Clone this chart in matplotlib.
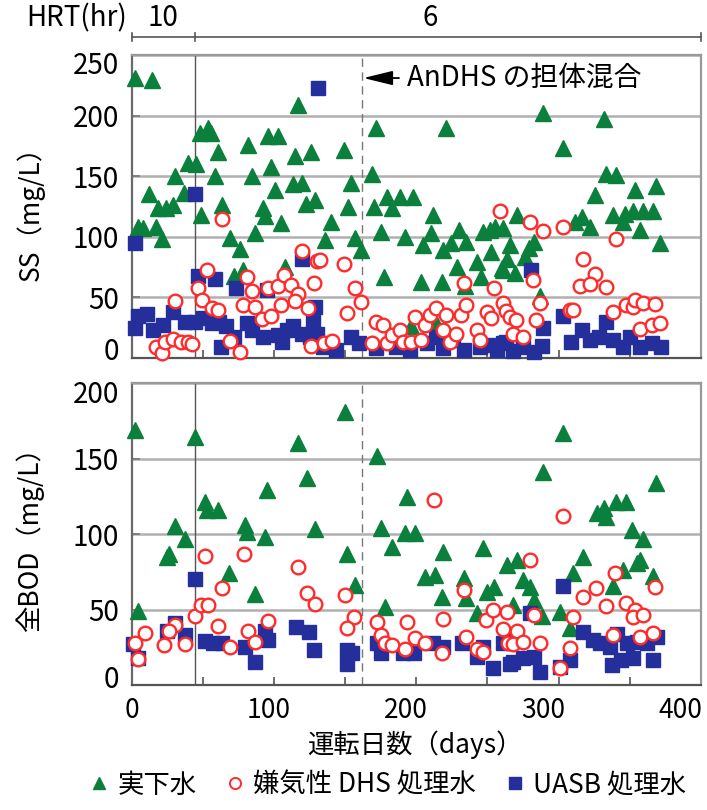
import numpy as np
import matplotlib
matplotlib.use("Agg")
import matplotlib.pyplot as plt
from matplotlib.lines import Line2D
from matplotlib.transforms import ScaledTranslation

plt.rcParams['font.family'] = ['Noto Sans CJK JP', 'DejaVu Sans']

# ---------------- data ----------------
X_MAX = 415
HRT_BREAKS = [0, 46, X_MAX]
HRT_LABELS = ['10', '6']
HRT_LABEL_DAYS = [23, 218]
MIX_DAY = 168

# SS (mg/L)
ss_raw_day = [2.5, 15, 121, 134, 50, 56, 58, 63, 85, 99.5, 107, 119, 131, 41, 47, 32, 61, 88, 102,
              117.5, 124.5, 104.6, 13, 30, 38, 19, 25, 5, 8.5, 18, 22, 51, 66, 72, 79, 90, 96, 97,
              109, 127.5, 75, 81, 112,
              158, 145.5, 141, 163, 167, 177, 186, 196, 189.5, 205, 182, 184, 199, 219.5, 218, 212.5,
              211, 226, 227, 233, 239, 244, 237, 251.5, 255, 256, 261, 265, 271, 262, 270, 243, 204, 222,
              178.5, 229.5, 155, 175, 160,
              300, 344, 314.5, 346, 353, 367, 382, 338,
              281, 293, 290, 276, 273.5, 287, 271, 279.5, 323, 328, 334, 351, 359.5, 365.5, 373, 380,
              358, 370.5, 385, 297.6]
ss_raw_val = [231, 229, 209, 130, 186, 190, 186, 170, 176, 183, 183, 167, 170, 161, 160, 150, 150, 150, 158,
              143.5, 144, 139, 135, 126, 136, 124, 124, 108, 107, 108, 98, 118, 126, 99, 90, 103, 124, 117,
              111, 127, 68, 73, 75,
              125, 112.5, 97, 99, 89, 125, 133, 133, 123.5, 133, 104, 67, 100, 118, 103, 93,
              63, 63, 89, 94.5, 105.6, 96, 75, 79.5, 67, 104, 105.6, 108, 107, 87.7, 74, 59, 26, 29,
              189.5, 189.5, 171.6, 152, 144,
              202, 197, 173, 152, 151, 139, 142, 134.5,
              118, 96, 90.5, 93, 82, 83.6, 72.6, 70, 112.5, 116.6, 108, 118, 119, 121, 121, 121,
              112.5, 105.6, 94.6, 51]

ss_dhs_day = [66, 55, 48.5, 51.5, 32, 59, 63, 72, 79, 18, 22.5, 24.5, 30, 36, 41, 44, 84, 88, 81, 90, 95,
              101.5, 99.5, 107, 111, 116.5, 121, 109, 119, 128.5, 124, 135, 133, 131,
              268.5, 137, 155, 163, 167, 157, 178.5, 183, 175, 186, 189.5, 196, 198, 204, 206.5, 211,
              214, 217.5, 222, 229.5, 227, 232, 236.5, 240, 244, 242, 251.5, 254, 259, 262, 264, 271,
              273, 140, 146,
              290.5, 300, 314.5, 353, 329, 337.5, 326.5, 334, 345.8, 292.5, 297.7, 276, 280.5, 295,
              278, 285.5, 319.5, 322, 351, 360, 365.5, 367, 373, 381.5, 370.5, 379, 385]
ss_dhs_val = [115, 73, 57.5, 48, 47, 41, 40, 14, 5, 9, 4, 13.5, 16, 13.5, 13.5, 11.5, 66.6, 55.5, 44, 42, 32,
              34.6, 58, 59, 68.5, 60, 53, 44, 47, 41, 88.5, 80, 62, 10,
              121.5, 81, 77.5, 57.5, 46.5, 37, 30, 27, 12, 12, 19, 23, 13.5, 13.5, 34, 15,
              27, 35.5, 41, 35.5, 23, 13.5, 20, 35.5, 44, 62, 23, 15, 38, 33, 57.5, 45,
              39, 12, 14,
              112.5, 105, 108, 98, 81.4, 69.3, 59.4, 61, 58.3, 64, 45, 34, 31, 31,
              20, 17.6, 39.6, 40, 38, 44, 42, 48, 45, 44.6, 23.7, 27, 29]

ss_uasb_day = [136, 46, 2.5, 48.5, 61, 76, 124, 98.5,
               4.7, 11.3, 2.5, 15.7, 30, 23, 39, 46, 52, 59, 64, 69, 75, 84, 88, 96, 107, 113, 117.5,
               124, 130, 135, 65, 110,
               133.5, 132, 139.5, 149, 160, 166, 178, 193, 203, 215, 222, 227, 234.5, 242, 254, 260,
               266, 273,
               291.4, 314.5, 300, 271, 278, 285, 293, 299, 320.5, 328, 334, 341, 346, 351, 358.5, 363,
               370.5, 379, 386]
ss_uasb_val = [223, 135, 95, 68, 65, 58, 82, 56,
               35, 36, 25, 23, 38, 27, 30, 30, 33, 29, 30, 26, 17, 29, 23, 17, 19, 23, 26,
               20, 17, 20, 9, 13,
               42, 31, 9, 6.6, 17.6, 12, 8, 9, 6.6, 12, 17.6, 8, 15, 6.6, 9, 10.7,
               6.6, 13.5,
               73, 34.6, 24.5, 12, 6, 9, 5, 10, 13.5, 23, 15, 17.6, 30, 15, 9, 17.6,
               9, 12, 9]

# total BOD (mg/L)
bod_raw_day = [2.5, 46, 121, 128, 99, 53.5, 55, 63, 31.7, 83, 84, 134, 39, 97, 25.6, 27, 71, 90, 5,
               155.6, 179, 200.5, 182, 199, 206.6, 189.6, 227, 256, 157, 163, 214, 221, 273.5, 242,
               226, 244, 259, 264, 184.7, 251.6,
               314.7, 300, 382, 339, 344, 346, 353, 360.5, 365, 373, 329, 368, 370.6, 281, 358.5, 322,
               380, 285.6, 290.5, 351, 293, 278, 299, 312, 319.6]
bod_raw_val = [169, 164.5, 160, 137, 129, 121, 116, 116, 105, 106, 101.5, 103, 97, 98, 85, 87, 74, 60, 49,
               181, 151.7, 124.7, 103.8, 100.5, 100.5, 91.6, 88, 90.5, 87, 66, 71.7, 72.8, 79.5, 70.6,
               58.5, 57.4, 61.8, 65, 51.8, 47.5,
               166.7, 141, 133.6, 113.7, 117, 111.5, 121.4, 121.4, 102.6, 97, 85, 81, 82.8, 82.8, 76, 74,
               72, 69.5, 65, 65.6, 56, 53, 46, 48.5, 37.5]

bod_dhs_day = [53.5, 82, 121, 128, 134, 66, 46, 51, 56, 63, 99.7, 85, 90, 72, 31.7, 27, 10, 2.5, 5, 24, 39,
               220.5, 155.6, 242, 162, 157, 179, 200.6, 227, 182, 185, 189.6, 199, 206.6, 214, 226,
               244, 251.6, 256.4, 258.4, 263.7, 270.5, 273.5, 274.6,
               314.7, 290.5, 352, 338.5, 329, 346, 381.6, 360.5, 367, 365.3, 373, 293, 322, 281, 278,
               285.6, 297.7, 351, 370.6, 380, 319.6, 312]
bod_dhs_val = [85.6, 86.8, 78, 61, 53.6, 64, 46, 53, 53, 39, 42.6, 36, 28.7, 25, 40, 36, 34.6, 28, 17, 26.5, 27,
               122.5, 59.6, 63, 45, 37.5, 42, 42, 44, 33, 27.6, 26.5, 23.6, 31, 28, 21.4,
               31.6, 23.6, 22, 43, 49.7, 36.9, 48.5, 27.6,
               112, 83, 74, 64, 58, 52.3, 64.7, 54.5, 50, 44.8, 46.4, 46.4, 45, 36, 27,
               28.7, 28, 33, 32, 34.6, 24.3, 11]

bod_uasb_day = [46, 1.3, 5, 25.6, 31.7, 39, 53.5, 59.6, 65.7, 83, 90, 97, 99.7, 120, 129, 133,
                157, 160.5, 157, 179, 182, 198, 205.5, 220, 227, 240.6, 256.4, 251.6, 263.7, 273.5, 276,
                314.7, 290.5, 329, 336.6, 341.5, 349, 353.6, 361, 368, 375.5, 383, 350, 357, 365.7, 380,
                312, 319.6, 271, 278, 285.6, 293, 297.7]
bod_uasb_val = [70, 27, 17.6, 36, 41, 33, 29, 28, 27.6, 25, 15, 36, 30, 38.6, 35, 23,
                23, 21, 14, 27.6, 21, 21, 21, 27.6, 25.4, 27.6, 25.4, 18.8, 11, 29.8, 14,
                65.6, 47.5, 35, 29.8, 27.6, 25.4, 34, 27.6, 28.7, 27.6, 32, 13, 16.6, 17.7, 16.6,
                12, 16.6, 27.6, 15.4, 17.7, 18.8, 8.8]

SERIES_NAMES = ['実下水', '嫌気性 DHS 処理水', 'UASB 処理水']

# ---------------- styling ----------------
GREEN = '#0b7f3c'
RED = '#ff2b2b'
NAVY = '#252f9b'
GRID = '#b0b0b0'
FS = 19

W, H = 707, 810
fig = plt.figure(figsize=(W / 100, H / 100), dpi=100)

def frac_box(x0, y0, x1, y1):
    """pixel box (top-left origin) -> figure fraction rect"""
    return [x0 / W, 1 - y1 / H, (x1 - x0) / W, (y1 - y0) / H]

ax_ss = fig.add_axes(frac_box(131.5, 55, 701, 358))
ax_bod = fig.add_axes(frac_box(131.5, 383, 701, 685))
ax_hrt = fig.add_axes(frac_box(131.5, 25, 701, 45))


def style_panel(ax, ymax, show_xlabels, end_shift):
    ax.set_xlim(0, X_MAX)
    ax.set_ylim(0, ymax)
    ax.set_yticks(np.arange(0, ymax + 1, 50))
    ax.set_xticks([0, 100, 200, 300, 400])
    ax.set_xticks(np.linspace(0, X_MAX, 9)[1:-1], minor=True)
    ax.tick_params(axis='x', which='major', length=0, pad=9, labelsize=FS,
                   labelbottom=show_xlabels)
    ax.tick_params(axis='x', which='minor', direction='in', length=6, width=1.2, color='#555555')
    ax.tick_params(axis='y', direction='in', length=6, width=1.2, color='#777777', pad=9,
                   labelsize=FS + 1)
    # nudge the end labels inward so neighbouring panels' labels stay apart
    labels = ax.get_yticklabels()
    lo, hi = end_shift
    labels[0].set_transform(labels[0].get_transform()
                            + ScaledTranslation(0, lo / 100, fig.dpi_scale_trans))
    labels[-1].set_transform(labels[-1].get_transform()
                             + ScaledTranslation(0, -hi / 100, fig.dpi_scale_trans))
    ax.grid(axis='y', color=GRID, lw=1.8, zorder=0)
    ax.set_axisbelow(True)
    for side in ['top', 'right']:
        ax.spines[side].set_color('#9a9a9a')
        ax.spines[side].set_linewidth(1.6)
    ax.spines['left'].set_color('#6a6a6a')
    ax.spines['left'].set_linewidth(1.6)
    ax.spines['bottom'].set_color('#555555')
    ax.spines['bottom'].set_linewidth(1.6)
    ax.axvline(HRT_BREAKS[1], color='#555555', lw=1.0, zorder=1)
    ax.axvline(MIX_DAY, color='#777777', lw=1.0, dashes=(6, 4), zorder=1)


def scatter(ax, raw_d, raw_v, dhs_d, dhs_v, uasb_d, uasb_v):
    ax.plot(raw_d, raw_v, ls='none', marker='^', ms=11.5, color=GREEN, mec=GREEN,
            clip_on=False, zorder=3)
    ax.plot(uasb_d, uasb_v, ls='none', marker='s', ms=10.5, color=NAVY, mec=NAVY,
            clip_on=False, zorder=4)
    ax.plot(dhs_d, dhs_v, ls='none', marker='o', ms=9.8, mfc='white', mec=RED, mew=1.7,
            clip_on=False, zorder=5)


style_panel(ax_ss, 250, False, (10, 7))
style_panel(ax_bod, 200, True, (9, 9))
scatter(ax_ss, ss_raw_day, ss_raw_val, ss_dhs_day, ss_dhs_val, ss_uasb_day, ss_uasb_val)
scatter(ax_bod, bod_raw_day, bod_raw_val, bod_dhs_day, bod_dhs_val, bod_uasb_day, bod_uasb_val)

# carrier-mixing note
ax_ss.annotate('AnDHS の担体混合', xy=(MIX_DAY + 1, 231), xytext=(201, 231),
               ha='left', va='center', fontsize=FS + 1,
               arrowprops=dict(arrowstyle='-|>,head_length=0.9,head_width=0.22',
                               color='black', lw=1.3, shrinkA=4, shrinkB=0),
               zorder=6)

# HRT bar above the plots
ax_hrt.set_xlim(0, X_MAX)
ax_hrt.set_ylim(0, 20)
ax_hrt.axis('off')
ax_hrt.plot([HRT_BREAKS[0], HRT_BREAKS[-1]], [8, 8], color='#555555', lw=1.2, clip_on=False)
for b in HRT_BREAKS:
    ax_hrt.plot([b, b], [4, 12], color='#555555', lw=1.2, clip_on=False)
for lab, d in zip(HRT_LABELS, HRT_LABEL_DAYS):
    ax_hrt.text(d, 27, lab, ha='center', va='center', fontsize=FS + 1, clip_on=False)
ax_hrt.text(-3, 27, 'HRT(hr)', ha='right', va='center', fontsize=FS + 1, clip_on=False)

# axis titles
fig.text(30 / W, 1 - 207 / H, 'SS（mg/L）', rotation=90, ha='center', va='center', fontsize=FS)
fig.text(30 / W, 1 - 533 / H, '全BOD（mg/L）', rotation=90, ha='center', va='center', fontsize=FS)
fig.text(415 / W, 1 - 745 / H, '運転日数（days）', ha='center', va='center', fontsize=FS)

# legend
handles = [
    Line2D([], [], ls='none', marker='^', ms=9, color=GREEN),
    Line2D([], [], ls='none', marker='o', ms=8, mfc='white', mec=RED, mew=1.4),
    Line2D([], [], ls='none', marker='s', ms=8.5, color=NAVY),
]
fig.legend(handles, SERIES_NAMES, loc='center', bbox_to_anchor=(388 / W, 1 - 785 / H),
           ncol=3, frameon=False, fontsize=FS, handlelength=0.7, handletextpad=0.35,
           columnspacing=1.1, borderaxespad=0)

fig.savefig('out.png', dpi=100)
